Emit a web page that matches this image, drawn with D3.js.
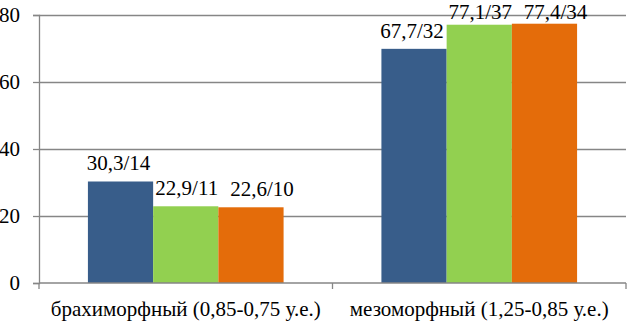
<!DOCTYPE html>
<html>
<head>
<meta charset="utf-8">
<script src="https://cdn.jsdelivr.net/npm/d3@7"></script>
<style>
  body { margin: 0; background: #fff; }
</style>
</head>
<body>
<div id="chart"></div>
<script>
'use strict'

// data
const categories = ['брахиморфный (0,85-0,75 у.е.)', 'мезоморфный (1,25-0,85 у.е.)']
const series = ['s1', 's2', 's3']
const colors = ['#385d8a', '#92d050', '#e46c0a']
const values = [
    [30.3, 22.9, 22.6],
    [69.9, 77.1, 77.4]
]
const labels = [
    ['30,3/14', '22,9/11', '22,6/10'],
    ['67,7/32', '77,1/37', '77,4/34']
]
const yTicks = [0, 20, 40, 60, 80]

const serif = 'Liberation Serif'
const fontSize = 21
const labelShift = [-2, 1, 11] // labels sit a little off-centre, like in excel

const svgWidth = 628, svgHeight = 326
const margin = {left: 39, right: 2, top: 15, bottom: 43}
const width = svgWidth - margin.left - margin.right
const height = svgHeight - margin.top - margin.bottom

const svg = d3.select('#chart')
    .append('svg')
    .attr('width', svgWidth)
    .attr('height', svgHeight)
  .append('g')
    .attr('transform', 'translate(' + margin.left + ',' + margin.top + ')')

const x0 = d3.scaleBand().domain(categories).range([0, width]).padding(0)
const x1 = d3.scaleBand().domain(series).range([0, x0.bandwidth()])
    .paddingInner(0).paddingOuter(0.75)
const y = d3.scaleLinear().domain([0, 80]).range([height, 0])

const gridColor = '#868686'

// gridlines
svg.append('g')
  .selectAll('line')
    .data(yTicks.filter(d => d > 0))
    .join('line')
    .attr('x1', 0)
    .attr('x2', width)
    .attr('y1', d => Math.round(y(d)) + 0.5)
    .attr('y2', d => Math.round(y(d)) + 0.5)
    .attr('stroke', gridColor)
    .attr('stroke-width', 1.3)

// bars
const group = svg.append('g')
  .selectAll('g')
    .data(values)
    .join('g')
    .attr('transform', (d, i) => 'translate(' + x0(categories[i]) + ',0)')

group.selectAll('rect')
    .data(d => d)
    .join('rect')
    .attr('x', (d, j) => x1(series[j]))
    .attr('width', x1.bandwidth())
    .attr('y', d => y(d))
    .attr('height', d => height - y(d))
    .attr('fill', (d, j) => colors[j])

// value labels (pushed down when they would leave the chart)
group.each(function(d, i) {
    d3.select(this).selectAll('text')
        .data(d)
        .join('text')
        .attr('x', (v, j) => x1(series[j]) + x1.bandwidth() / 2 + labelShift[j])
        .attr('y', v => Math.max(y(v) - 11, 4))
        .attr('text-anchor', 'middle')
        .attr('font-family', serif)
        .attr('font-size', fontSize)
        .attr('fill', '#000')
        .text((v, j) => labels[i][j])
})

// y axis
const yAxis = svg.append('g')
    .call(d3.axisLeft(y).tickValues(yTicks).tickSize(6).tickPadding(13).tickFormat(d3.format('d')))
    .attr('font-family', serif)
yAxis.select('.domain').attr('stroke', gridColor).attr('stroke-width', 1.3)
yAxis.selectAll('.tick line').attr('stroke', gridColor).attr('stroke-width', 1.3)
yAxis.selectAll('text')
    .attr('font-size', fontSize)
    .attr('font-family', serif)
    .attr('fill', '#000')

// x axis
const xAxis = svg.append('g')
    .attr('transform', 'translate(0,' + height + ')')
xAxis.append('line')
    .attr('x1', 0).attr('x2', width)
    .attr('y1', 0).attr('y2', 0)
    .attr('stroke', gridColor).attr('stroke-width', 1.3)
xAxis.selectAll('.xtick')
    .data(d3.range(categories.length + 1))
    .join('line')
    .attr('class', 'xtick')
    .attr('x1', i => i * x0.step())
    .attr('x2', i => i * x0.step())
    .attr('y1', 0).attr('y2', 6)
    .attr('stroke', gridColor).attr('stroke-width', 1.3)
xAxis.selectAll('.xlabel')
    .data(categories)
    .join('text')
    .attr('class', 'xlabel')
    .attr('x', d => x0(d) + x0.bandwidth() / 2)
    .attr('y', 33)
    .attr('text-anchor', 'middle')
    .attr('font-family', serif)
    .attr('font-size', fontSize)
    .attr('fill', '#000')
    .text(d => d)
</script>
</body>
</html>
